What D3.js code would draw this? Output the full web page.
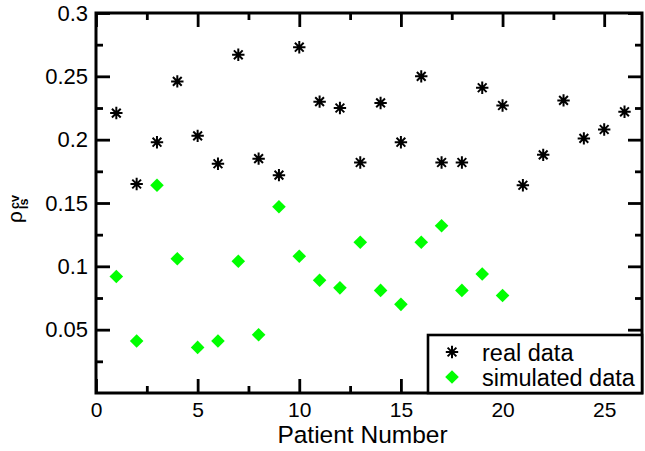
<!DOCTYPE html>
<html>
<head>
<meta charset="utf-8">
<script src="https://cdn.jsdelivr.net/npm/d3@7"></script>
<style>
  html, body { margin: 0; padding: 0; background: #fff; }
  svg { display: block; font-family: "Liberation Sans", Arial, Helvetica, sans-serif; }
</style>
</head>
<body>
<svg id="chart" width="645" height="451"></svg>
<script>
// Correlation coefficient per patient
const realPatients = d3.range(1, 27);
const realValues = [
  0.221, 0.165, 0.198, 0.246, 0.203, 0.181, 0.267, 0.185, 0.172, 0.273,
  0.230, 0.225, 0.182, 0.229, 0.198, 0.250, 0.182, 0.182, 0.241, 0.227,
  0.164, 0.188, 0.231, 0.201, 0.208, 0.222
];
const simPatients = d3.range(1, 21);
const simValues = [
  0.092, 0.041, 0.164, 0.106, 0.036, 0.041, 0.104, 0.046, 0.147, 0.108,
  0.089, 0.083, 0.119, 0.081, 0.070, 0.119, 0.132, 0.081, 0.094, 0.077
];

const xMajor = [0, 5, 10, 15, 20, 25];
const xMinor = [2.5, 7.5, 12.5, 17.5, 22.5];
const yMajor = [0.05, 0.1, 0.15, 0.2, 0.25, 0.3];
const yMajorLabels = ["0.05", "0.1", "0.15", "0.2", "0.25", "0.3"];
const yMinor = [0.025, 0.075, 0.125, 0.175, 0.225, 0.275];
const legendLabels = ["real data", "simulated data"];

const svg = d3.select("#chart");
const plotLeft = 96, plotRight = 642, plotTop = 13, plotBottom = 393;

const x = d3.scaleLinear().domain([0, 26.86]).range([plotLeft, plotRight]);
const y = d3.scaleLinear().domain([0, 0.3]).range([plotBottom, plotTop]);

const majorLen = 14, minorLen = 7;

function styleAxis(g) {
  g.select(".domain").remove();
  g.selectAll(".tick line").attr("stroke", "#000").attr("stroke-width", 2.8);
  g.selectAll(".tick text").attr("fill", "#000");
}

// Bottom axis with labels
svg.append("g")
  .attr("transform", `translate(0,${plotBottom})`)
  .call(d3.axisBottom(x).tickValues(xMajor).tickSizeInner(-majorLen).tickSizeOuter(0)
        .tickPadding(9).tickFormat(d3.format("d")))
  .call(styleAxis)
  .call(g => g.selectAll(".tick text")
    .attr("font-size", 21).attr("dy", null).attr("y", 24));
svg.append("g")
  .attr("transform", `translate(0,${plotBottom})`)
  .call(d3.axisBottom(x).tickValues(xMinor).tickSizeInner(-minorLen).tickSizeOuter(0).tickFormat(""))
  .call(styleAxis);

// Top axis (ticks only)
svg.append("g")
  .attr("transform", `translate(0,${plotTop})`)
  .call(d3.axisTop(x).tickValues(xMajor).tickSizeInner(-majorLen).tickSizeOuter(0).tickFormat(""))
  .call(styleAxis);
svg.append("g")
  .attr("transform", `translate(0,${plotTop})`)
  .call(d3.axisTop(x).tickValues(xMinor).tickSizeInner(-minorLen).tickSizeOuter(0).tickFormat(""))
  .call(styleAxis);

// Left axis with labels
svg.append("g")
  .attr("transform", `translate(${plotLeft},0)`)
  .call(d3.axisLeft(y).tickValues(yMajor).tickSizeInner(-majorLen).tickSizeOuter(0)
        .tickPadding(8).tickFormat((d, i) => yMajorLabels[i]))
  .call(styleAxis)
  .call(g => g.selectAll(".tick text").attr("font-size", 22).attr("x", -8));
svg.append("g")
  .attr("transform", `translate(${plotLeft},0)`)
  .call(d3.axisLeft(y).tickValues(yMinor).tickSizeInner(-minorLen).tickSizeOuter(0).tickFormat(""))
  .call(styleAxis);

// Right axis (ticks only)
svg.append("g")
  .attr("transform", `translate(${plotRight},0)`)
  .call(d3.axisRight(y).tickValues(yMajor).tickSizeInner(-majorLen).tickSizeOuter(0).tickFormat(""))
  .call(styleAxis);
svg.append("g")
  .attr("transform", `translate(${plotRight},0)`)
  .call(d3.axisRight(y).tickValues(yMinor).tickSizeInner(-minorLen).tickSizeOuter(0).tickFormat(""))
  .call(styleAxis);

// Plot frame
svg.append("rect")
  .attr("x", plotLeft).attr("y", plotTop)
  .attr("width", plotRight - plotLeft).attr("height", plotBottom - plotTop)
  .attr("fill", "none").attr("stroke", "#000").attr("stroke-width", 3);

// Marker shapes
const starR = 6.2;
const starPath = (() => {
  const p = d3.path();
  for (let k = 0; k < 4; k++) {
    const a = k * Math.PI / 4;
    p.moveTo(-starR * Math.cos(a), -starR * Math.sin(a));
    p.lineTo(starR * Math.cos(a), starR * Math.sin(a));
  }
  return p.toString();
})();
const diaR = 6.8;
const diamondPath = `M0,${-diaR}L${diaR},0L0,${diaR}L${-diaR},0Z`;

// Real data stars
svg.append("g").selectAll("path")
  .data(realValues)
  .join("path")
  .attr("transform", (d, i) => `translate(${x(realPatients[i])},${y(d)})`)
  .attr("d", starPath)
  .attr("stroke", "#000").attr("stroke-width", 2).attr("fill", "none");

// Simulated data diamonds
svg.append("g").selectAll("path")
  .data(simValues)
  .join("path")
  .attr("transform", (d, i) => `translate(${x(simPatients[i])},${y(d)})`)
  .attr("d", diamondPath)
  .attr("fill", "#00ff00");

// Legend
const legend = svg.append("g");
legend.append("rect")
  .attr("x", 428).attr("y", 335)
  .attr("width", plotRight - 428).attr("height", plotBottom - 335)
  .attr("fill", "#fff").attr("stroke", "#000").attr("stroke-width", 2.6);
legend.append("path")
  .attr("transform", "translate(452,352)")
  .attr("d", starPath)
  .attr("stroke", "#000").attr("stroke-width", 2).attr("fill", "none");
legend.append("path")
  .attr("transform", "translate(452,377)")
  .attr("d", diamondPath)
  .attr("fill", "#00ff00");
legend.selectAll("text")
  .data(legendLabels)
  .join("text")
  .attr("x", 482)
  .attr("y", (d, i) => 360.5 + i * 25)
  .attr("font-size", 23.5)
  .attr("fill", "#000")
  .text(d => d);

// Axis titles
svg.append("text")
  .attr("x", 362.5).attr("y", 443)
  .attr("text-anchor", "middle")
  .attr("font-size", 24.5)
  .attr("fill", "#000")
  .text("Patient Number");

const yTitle = svg.append("text")
  .attr("transform", "translate(22,223) rotate(-90)")
  .attr("fill", "#000");
yTitle.append("tspan").attr("x", 0).attr("y", 0).attr("font-size", 21).text("ρ");
yTitle.append("tspan").attr("x", 14).attr("y", -3).attr("font-size", 12.5)
  .attr("font-weight", "bold").text("cv");
yTitle.append("tspan").attr("x", 14).attr("y", 6).attr("font-size", 12.5)
  .attr("font-weight", "bold").text("ls");
</script>
</body>
</html>
